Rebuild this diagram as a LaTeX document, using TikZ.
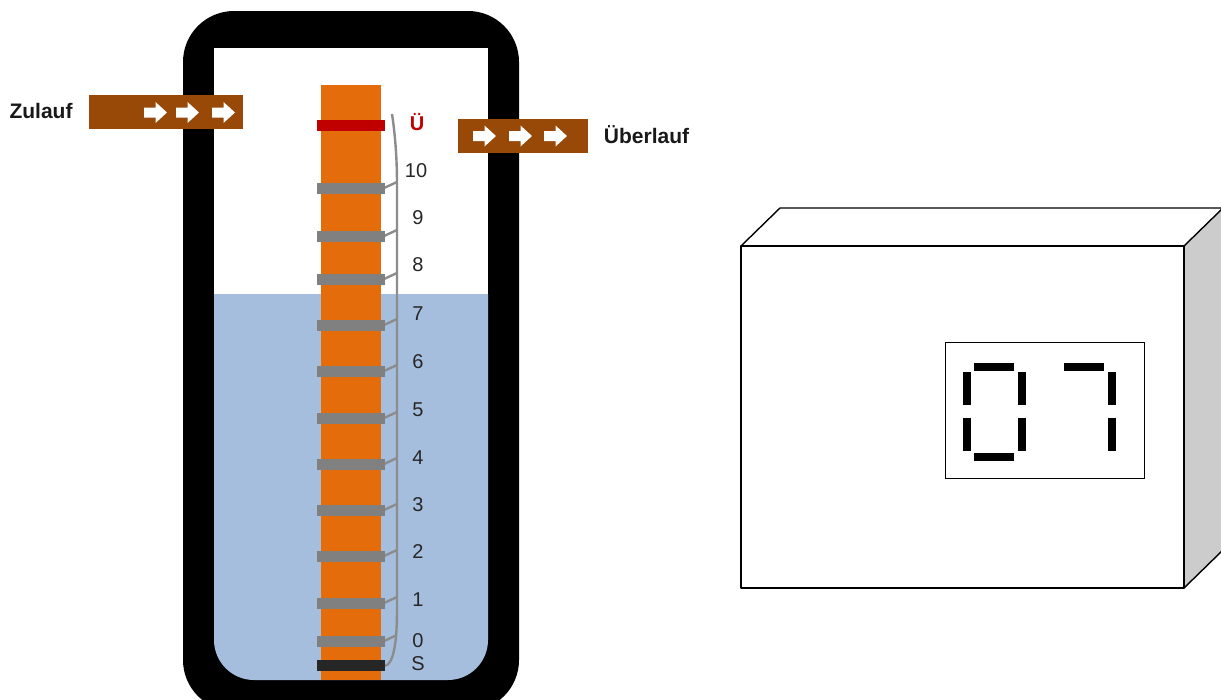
\documentclass[tikz,border=0pt]{standalone}
\usepackage{fontspec}
\setmainfont{Liberation Sans}
\definecolor{water}{HTML}{A6BEDD}
\definecolor{rod}{HTML}{E46C0A}
\definecolor{pipe}{HTML}{984807}
\definecolor{band}{HTML}{808080}
\definecolor{wire}{HTML}{8C8C8C}
\definecolor{redband}{HTML}{C00000}
\definecolor{blackband}{HTML}{262626}
\definecolor{side}{HTML}{CCCCCC}
\tikzset{
  wirel/.style={draw=wire,line width=2.4pt},
  lbl/.style={font=\fontsize{20}{22}\selectfont,text=black!85,inner sep=0pt,anchor=center},
  blbl/.style={font=\fontsize{21}{23}\selectfont\bfseries,text=black!90,inner sep=0pt,anchor=center},
  seg/.style={fill=black,draw=none},
  boxl/.style={draw=black,line width=1.4pt,line join=round},
  whitearrow/.style={fill=white,draw=none},
}
\newcommand{\bandat}[3]{\fill[#3] (317,#1) rectangle (385,#2);}
\newcommand{\warrow}[2]{\fill[whitearrow] (#1,#2-5) -- (#1+11.5,#2-5) -- (#1+11.5,#2-10.5) -- (#1+23,#2) -- (#1+11.5,#2+10.5) -- (#1+11.5,#2+5) -- (#1,#2+5) -- cycle;}
\newcommand{\hseg}[2]{\fill[seg] (#1,#2) rectangle (#1+40,#2+8);}
\newcommand{\vseg}[2]{\fill[seg] (#1,#2) rectangle (#1+8.3,#2+32.7);}
\begin{document}
\begin{tikzpicture}[x=1pt,y=-1pt]
\useasboundingbox (0,0) rectangle (1221,699);
\fill[white] (0,0) rectangle (1221,699);
% tank
\begin{scope}
\clip (0,0) rectangle (1221,699);
\fill[black,rounded corners=51pt] (183,11) rectangle (519,711);
\fill[white] (214,48) rectangle (488,300);
\fill[water,rounded corners=40pt] (214,294) -- (214,680) -- (488,680) -- (488,294);
\end{scope}
% rod
\fill[rod] (321,85) rectangle (381,680);
% wires
\draw[wirel] (392,114) .. controls (396,140) and (397,165) .. (397,185) -- (397,610) .. controls (397,640) and (394,664) .. (385,666);
\foreach \y/\t in {188/182,236/230,279/273,325/319,371/365,418/412,464/458,510/504,556/550,603/597,641/635}{
  \draw[wirel] (384,\y) -- (397,\t);
}
% bands
\bandat{119.5}{130.5}{redband}
\foreach \y in {188,236,279,325,371,418,464,510,556,603,641}{
  \fill[band] (317,\y-5.5) rectangle (385,\y+5.5);
}
\bandat{660}{671}{blackband}
% labels
\node[font=\fontsize{20}{22}\selectfont\bfseries,text=redband,inner sep=0pt] (lu) at (417,122) {Ü};
\node[lbl] (l10) at (416,170.5) {10};
\node[lbl] (l9) at (418,217.5) {9};
\node[lbl] (l8) at (418,264.5) {8};
\node[lbl] (l7) at (418,313.5) {7};
\node[lbl] (l6) at (418,361.5) {6};
\node[lbl] (l5) at (418,409.5) {5};
\node[lbl] (l4) at (418,457.5) {4};
\node[lbl] (l3) at (418,504.5) {3};
\node[lbl] (l2) at (418,551.5) {2};
\node[lbl] (l1) at (418,600) {1};
\node[lbl] (l0) at (418,640.5) {0};
\node[lbl] (ls) at (418,664) {S};
% pipes
\fill[pipe] (89,95) rectangle (243,129);
\warrow{144}{112.5}
\warrow{176}{112.5}
\warrow{212}{112.5}
\fill[pipe] (457.5,118.5) rectangle (588,153);
\warrow{473}{136}
\warrow{509}{136}
\warrow{544}{136}
\node[blbl] (zu) at (41,111) {Zulauf};
\node[blbl] (ub) at (646.5,134.5) {Überlauf};
% box
\fill[white] (741,246) rectangle (1184,588);
\fill[side] (1184,246) -- (1223,208) -- (1223,550) -- (1184,588) -- cycle;
\draw[boxl] (741,246) rectangle (1184,588);
\draw[boxl] (741,246) -- (780,208) -- (1223,208) -- (1184,246);
\draw[boxl] (1184,588) -- (1223,550);
% display
\draw[draw=black,line width=1pt] (945,342) rectangle (1144,478);
\hseg{974}{363}
\vseg{962.5}{372}
\vseg{1018}{372}
\vseg{962.5}{418.3}
\vseg{1018}{418.3}
\hseg{974}{452.7}
\hseg{1063.5}{363}
\vseg{1107.5}{372}
\vseg{1107.5}{418.3}
\end{tikzpicture}
\end{document}
